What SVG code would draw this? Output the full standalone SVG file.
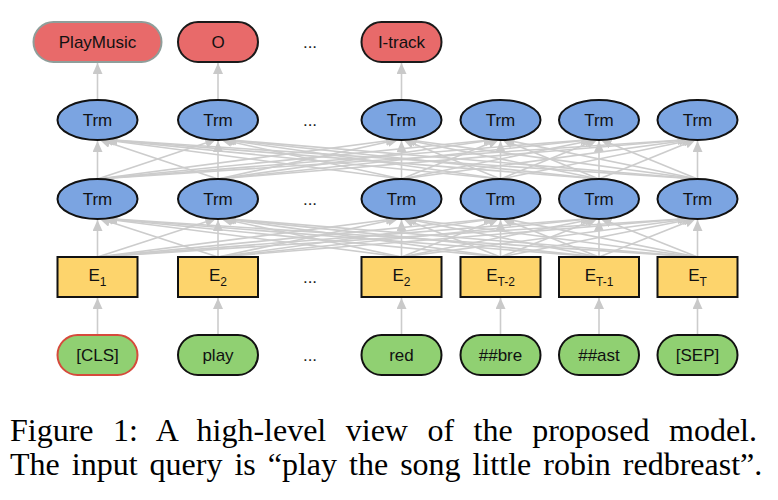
<svg xmlns="http://www.w3.org/2000/svg" width="778" height="500" viewBox="0 0 778 500">
<defs>
<marker id="ah" markerUnits="userSpaceOnUse" markerWidth="11" markerHeight="10" refX="11" refY="5" orient="auto">
<path d="M0,0 L11,5 L0,10 z" fill="#c9c9c9"/>
</marker>
<style>
.c line{stroke:#cccccc;stroke-width:1.6;fill:none;marker-end:url(#ah)}
.out{fill:#e86a6a;stroke:#1a1a1a;stroke-width:2}
.trm{fill:#7ba4e1;stroke:#111;stroke-width:2}
.emb{fill:#fdd46c;stroke:#111;stroke-width:2}
.inp{fill:#90d072;stroke:#111;stroke-width:2}
.t{font-size:17px;fill:#111;text-anchor:middle}
.d{font-size:17px;fill:#222;text-anchor:middle}
.cap{font-size:32px;fill:#000}
</style>
</defs>
<rect width="778" height="500" fill="#fff"/>
<g id="connectors" class="c">
<line x1="97.5" y1="335" x2="97.5" y2="298"/>
<line x1="218" y1="335" x2="218" y2="298"/>
<line x1="401.5" y1="335" x2="401.5" y2="298"/>
<line x1="500.5" y1="335" x2="500.5" y2="298"/>
<line x1="599" y1="335" x2="599" y2="298"/>
<line x1="697.5" y1="335" x2="697.5" y2="298"/>
<line x1="97.5" y1="257" x2="97.5" y2="220"/>
<line x1="218" y1="257" x2="99.3" y2="218.5"/>
<line x1="401.5" y1="257" x2="102.1" y2="218.5"/>
<line x1="500.5" y1="257" x2="103.5" y2="218.5"/>
<line x1="599" y1="257" x2="105" y2="218.5"/>
<line x1="697.5" y1="257" x2="106.5" y2="218.5"/>
<line x1="97.5" y1="257" x2="216.2" y2="218.5"/>
<line x1="218" y1="257" x2="218" y2="220"/>
<line x1="401.5" y1="257" x2="220.8" y2="218.5"/>
<line x1="500.5" y1="257" x2="222.2" y2="218.5"/>
<line x1="599" y1="257" x2="223.7" y2="218.5"/>
<line x1="697.5" y1="257" x2="225.2" y2="218.5"/>
<line x1="97.5" y1="257" x2="396.9" y2="218.5"/>
<line x1="218" y1="257" x2="398.7" y2="218.5"/>
<line x1="401.5" y1="257" x2="401.5" y2="220"/>
<line x1="500.5" y1="257" x2="403" y2="218.5"/>
<line x1="599" y1="257" x2="404.5" y2="218.5"/>
<line x1="697.5" y1="257" x2="405.9" y2="218.5"/>
<line x1="97.5" y1="257" x2="494.5" y2="218.5"/>
<line x1="218" y1="257" x2="496.3" y2="218.5"/>
<line x1="401.5" y1="257" x2="499" y2="218.5"/>
<line x1="500.5" y1="257" x2="500.5" y2="220"/>
<line x1="599" y1="257" x2="502" y2="218.5"/>
<line x1="697.5" y1="257" x2="503.5" y2="218.5"/>
<line x1="97.5" y1="257" x2="591.5" y2="218.5"/>
<line x1="218" y1="257" x2="593.3" y2="218.5"/>
<line x1="401.5" y1="257" x2="596" y2="218.5"/>
<line x1="500.5" y1="257" x2="597.5" y2="218.5"/>
<line x1="599" y1="257" x2="599" y2="220"/>
<line x1="697.5" y1="257" x2="600.5" y2="218.5"/>
<line x1="97.5" y1="257" x2="688.5" y2="218.5"/>
<line x1="218" y1="257" x2="690.3" y2="218.5"/>
<line x1="401.5" y1="257" x2="693.1" y2="218.5"/>
<line x1="500.5" y1="257" x2="694.5" y2="218.5"/>
<line x1="599" y1="257" x2="696" y2="218.5"/>
<line x1="697.5" y1="257" x2="697.5" y2="220"/>
<line x1="97.5" y1="179" x2="97.5" y2="141"/>
<line x1="218" y1="179" x2="99.3" y2="139.5"/>
<line x1="401.5" y1="179" x2="102.1" y2="139.5"/>
<line x1="500.5" y1="179" x2="103.5" y2="139.5"/>
<line x1="599" y1="179" x2="105" y2="139.5"/>
<line x1="697.5" y1="179" x2="106.5" y2="139.5"/>
<line x1="97.5" y1="179" x2="216.2" y2="139.5"/>
<line x1="218" y1="179" x2="218" y2="141"/>
<line x1="401.5" y1="179" x2="220.8" y2="139.5"/>
<line x1="500.5" y1="179" x2="222.2" y2="139.5"/>
<line x1="599" y1="179" x2="223.7" y2="139.5"/>
<line x1="697.5" y1="179" x2="225.2" y2="139.5"/>
<line x1="97.5" y1="179" x2="396.9" y2="139.5"/>
<line x1="218" y1="179" x2="398.7" y2="139.5"/>
<line x1="401.5" y1="179" x2="401.5" y2="141"/>
<line x1="500.5" y1="179" x2="403" y2="139.5"/>
<line x1="599" y1="179" x2="404.5" y2="139.5"/>
<line x1="697.5" y1="179" x2="405.9" y2="139.5"/>
<line x1="97.5" y1="179" x2="494.5" y2="139.5"/>
<line x1="218" y1="179" x2="496.3" y2="139.5"/>
<line x1="401.5" y1="179" x2="499" y2="139.5"/>
<line x1="500.5" y1="179" x2="500.5" y2="141"/>
<line x1="599" y1="179" x2="502" y2="139.5"/>
<line x1="697.5" y1="179" x2="503.5" y2="139.5"/>
<line x1="97.5" y1="179" x2="591.5" y2="139.5"/>
<line x1="218" y1="179" x2="593.3" y2="139.5"/>
<line x1="401.5" y1="179" x2="596" y2="139.5"/>
<line x1="500.5" y1="179" x2="597.5" y2="139.5"/>
<line x1="599" y1="179" x2="599" y2="141"/>
<line x1="697.5" y1="179" x2="600.5" y2="139.5"/>
<line x1="97.5" y1="179" x2="688.5" y2="139.5"/>
<line x1="218" y1="179" x2="690.3" y2="139.5"/>
<line x1="401.5" y1="179" x2="693.1" y2="139.5"/>
<line x1="500.5" y1="179" x2="694.5" y2="139.5"/>
<line x1="599" y1="179" x2="696" y2="139.5"/>
<line x1="697.5" y1="179" x2="697.5" y2="141"/>
<line x1="97.5" y1="100" x2="97.5" y2="63"/>
<line x1="218" y1="100" x2="218" y2="63"/>
<line x1="401.5" y1="100" x2="401.5" y2="63"/>
</g>
<g font-family="'Liberation Sans', Arial, Helvetica, sans-serif">
<g id="out-playmusic"><rect class="out" x="33.5" y="22" width="128" height="40" rx="20" style="stroke:#8f9e9a"/><text class="t" x="97.5" y="48">PlayMusic</text></g>
<g id="out-o"><rect class="out" x="178" y="22" width="80" height="40" rx="20"/><text class="t" x="218" y="48">O</text></g>
<g id="out-itrack"><rect class="out" x="361.5" y="22" width="80" height="40" rx="20"/><text class="t" x="401.5" y="48">I-track</text></g>
<g id="trm2-1"><ellipse class="trm" cx="97.5" cy="120" rx="40" ry="20"/><text class="t" x="97.5" y="126">Trm</text></g>
<g id="trm2-2"><ellipse class="trm" cx="218" cy="120" rx="40" ry="20"/><text class="t" x="218" y="126">Trm</text></g>
<g id="trm2-3"><ellipse class="trm" cx="401.5" cy="120" rx="40" ry="20"/><text class="t" x="401.5" y="126">Trm</text></g>
<g id="trm2-4"><ellipse class="trm" cx="500.5" cy="120" rx="40" ry="20"/><text class="t" x="500.5" y="126">Trm</text></g>
<g id="trm2-5"><ellipse class="trm" cx="599" cy="120" rx="40" ry="20"/><text class="t" x="599" y="126">Trm</text></g>
<g id="trm2-6"><ellipse class="trm" cx="697.5" cy="120" rx="40" ry="20"/><text class="t" x="697.5" y="126">Trm</text></g>
<g id="trm1-1"><ellipse class="trm" cx="97.5" cy="199" rx="40" ry="20"/><text class="t" x="97.5" y="205">Trm</text></g>
<g id="trm1-2"><ellipse class="trm" cx="218" cy="199" rx="40" ry="20"/><text class="t" x="218" y="205">Trm</text></g>
<g id="trm1-3"><ellipse class="trm" cx="401.5" cy="199" rx="40" ry="20"/><text class="t" x="401.5" y="205">Trm</text></g>
<g id="trm1-4"><ellipse class="trm" cx="500.5" cy="199" rx="40" ry="20"/><text class="t" x="500.5" y="205">Trm</text></g>
<g id="trm1-5"><ellipse class="trm" cx="599" cy="199" rx="40" ry="20"/><text class="t" x="599" y="205">Trm</text></g>
<g id="trm1-6"><ellipse class="trm" cx="697.5" cy="199" rx="40" ry="20"/><text class="t" x="697.5" y="205">Trm</text></g>
<g id="emb-1"><rect class="emb" x="57.5" y="257" width="80" height="40"/><text class="t" x="97.5" y="281">E<tspan font-size="12" dy="5">1</tspan></text></g>
<g id="emb-2"><rect class="emb" x="178" y="257" width="80" height="40"/><text class="t" x="218" y="281">E<tspan font-size="12" dy="5">2</tspan></text></g>
<g id="emb-3"><rect class="emb" x="361.5" y="257" width="80" height="40"/><text class="t" x="401.5" y="281">E<tspan font-size="12" dy="5">2</tspan></text></g>
<g id="emb-4"><rect class="emb" x="460.5" y="257" width="80" height="40"/><text class="t" x="500.5" y="281">E<tspan font-size="12" dy="5">T-2</tspan></text></g>
<g id="emb-5"><rect class="emb" x="559" y="257" width="80" height="40"/><text class="t" x="599" y="281">E<tspan font-size="12" dy="5">T-1</tspan></text></g>
<g id="emb-6"><rect class="emb" x="657.5" y="257" width="80" height="40"/><text class="t" x="697.5" y="281">E<tspan font-size="12" dy="5">T</tspan></text></g>
<g id="in-cls"><rect class="inp" x="57.5" y="335" width="80" height="40" rx="20" style="stroke:#d64a3c"/><text class="t" x="97.5" y="361">[CLS]</text></g>
<g id="in-play"><rect class="inp" x="178" y="335" width="80" height="40" rx="20"/><text class="t" x="218" y="361">play</text></g>
<g id="in-red"><rect class="inp" x="361.5" y="335" width="80" height="40" rx="20"/><text class="t" x="401.5" y="361">red</text></g>
<g id="in-bre"><rect class="inp" x="460.5" y="335" width="80" height="40" rx="20"/><text class="t" x="500.5" y="361">##bre</text></g>
<g id="in-ast"><rect class="inp" x="559" y="335" width="80" height="40" rx="20"/><text class="t" x="599" y="361">##ast</text></g>
<g id="in-sep"><rect class="inp" x="657.5" y="335" width="80" height="40" rx="20"/><text class="t" x="697.5" y="361">[SEP]</text></g>
<g id="dots">
<text class="d" x="310" y="48">...</text>
<text class="d" x="310" y="126">...</text>
<text class="d" x="310" y="205">...</text>
<text class="d" x="310" y="283">...</text>
<text class="d" x="310" y="361">...</text>
</g>
</g>
<g id="caption" font-family="'Liberation Serif', 'Times New Roman', Times, serif">
<text class="cap" x="10" y="441" word-spacing="11.5">Figure 1: A high-level view of the proposed model.</text>
<text class="cap" x="10" y="475" word-spacing="4">The input query is “play the song little robin redbreast”.</text>
</g>
</svg>
